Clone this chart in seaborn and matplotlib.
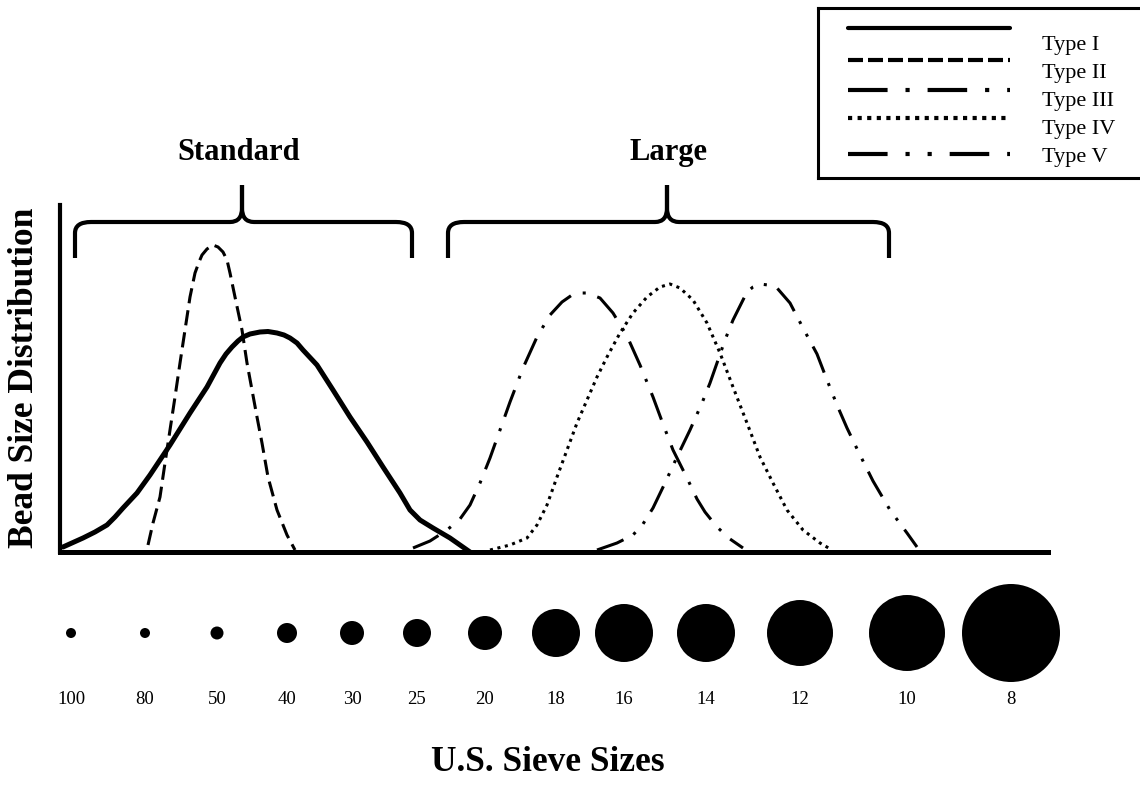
import pandas as pd
import seaborn as sns
import matplotlib.pyplot as plt
from matplotlib.path import Path
from matplotlib.patches import PathPatch

# distribution curves: position along the sieve scale, height above the axis
type1_x = [63, 83, 95, 107, 115, 123, 137, 150, 170, 190, 207, 220, 226, 232, 238, 243, 250, 260, 268, 277, 284, 290, 297, 303, 317, 333, 350, 367, 383, 400, 410, 420, 433, 450, 470]
type1_y = [5, 14, 20, 27, 35, 44, 59, 77, 107, 139, 165, 189, 198, 205, 211, 215, 218, 220, 220.5, 219, 217, 214, 209, 202, 187, 162, 135, 110, 85, 59, 42, 32, 24, 14, 0]

type2_x = [148, 153, 160, 165, 170, 175, 180, 185, 190, 195, 199, 202, 207, 213, 218, 223, 227, 230, 235, 242, 247, 252, 257, 262, 268, 277, 287, 295]
type2_y = [7, 29, 55, 89, 122, 155, 189, 222, 255, 279, 290, 297, 303, 307, 305, 300, 292, 279, 255, 222, 189, 162, 135, 109, 75, 42, 17, 2]

type3_x = [413, 430, 447, 460, 470, 480, 490, 500, 510, 523, 537, 550, 562, 572, 580, 587, 600, 613, 627, 640, 653, 663, 673, 687, 697, 705, 717, 730, 743]
type3_y = [4, 11, 22, 33, 47, 69, 94, 122, 150, 184, 215, 237, 250, 257, 259, 259, 254, 239, 216, 187, 155, 128, 102, 74, 53, 40, 25, 13, 4]

type4_x = [490, 510, 527, 537, 547, 557, 567, 577, 587, 597, 607, 620, 633, 647, 660, 670, 680, 693, 707, 720, 733, 747, 760, 773, 787, 803, 820, 832]
type4_y = [2, 7, 14, 27, 47, 75, 102, 129, 152, 175, 195, 219, 239, 255, 265, 268, 264, 252, 229, 199, 165, 129, 95, 69, 42, 22, 9, 2]

type5_x = [597, 617, 633, 643, 653, 665, 677, 690, 702, 710, 717, 725, 733, 747, 753, 760, 768, 777, 790, 803, 817, 827, 837, 847, 860, 873, 890, 907, 917]
type5_y = [2, 9, 17, 28, 44, 69, 95, 122, 149, 169, 189, 212, 232, 260, 265, 268, 267, 264, 249, 224, 198, 172, 147, 124, 97, 71, 42, 19, 5]

type_names = ['Type I', 'Type II', 'Type III', 'Type IV', 'Type V']

# sieve sizes and bead radius drawn under the axis
sieve_labels = ['100', '80', '50', '40', '30', '25', '20', '18', '16', '14', '12', '10', '8']
sieve_pos = [71, 145, 217, 287, 352, 417, 485, 556, 624, 706, 800, 907, 1011]
bead_radius = [5, 5, 6.5, 10, 12, 14, 17, 24, 29, 29, 33, 38, 49]

groups = ['Standard', 'Large']


curvas = pd.concat([
    pd.DataFrame({'pos': x, 'dist': y, 'tipo': t})
    for x, y, t in zip([type1_x, type2_x, type3_x, type4_x, type5_x],
                       [type1_y, type2_y, type3_y, type4_y, type5_y], type_names)
])

estilos = {
    'Type I': dict(linewidth=3.6, linestyle='-'),
    'Type II': dict(linewidth=2.2, linestyle=(0, (5, 2.3))),
    'Type III': dict(linewidth=2.2, linestyle=(0, (9.3, 4, 1, 4))),
    'Type IV': dict(linewidth=2.2, linestyle=(0, (1, 1.5))),
    'Type V': dict(linewidth=2.2, linestyle=(0, (9.3, 3.7, 1, 3.7, 1, 3.7))),
}
estilos_leg = {
    'Type I': dict(linewidth=3, linestyle='-'),
    'Type II': dict(linewidth=3, linestyle=(0, (3.6, 1.2))),
    'Type III': dict(linewidth=3, linestyle=(0, (9.5, 4.3, 1, 4.3))),
    'Type IV': dict(linewidth=3, linestyle=(0, (1, 1.3))),
    'Type V': dict(linewidth=3, linestyle=(0, (9.5, 4.3, 1, 4.3, 1, 4.3))),
}

sns.set_style('white')
plt.rcParams['font.family'] = ['Liberation Serif', 'DejaVu Serif']
plt.rcParams['text.color'] = 'black'

W, H = 1140, 793
fig = plt.figure(figsize=(W / 100, H / 100), dpi=100)

# main axes box in pixels: x 60..1048, y 205..552
ax = fig.add_axes([60 / W, (H - 552) / H, (1048 - 60) / W, (552 - 205) / H])
ax.set_facecolor('none')

for t in type_names:
    sns.lineplot(x='pos', y='dist', data=curvas[curvas['tipo'] == t], ax=ax,
                 color='black', estimator=None, sort=False, **estilos[t])

ax.set_xlim(60, 1048)
ax.set_ylim(0, 347)
ax.set_xticks([])
ax.set_yticks([])
ax.set_xlabel('')
ax.set_ylabel('')
for s in ['top', 'right']:
    ax.spines[s].set_visible(False)
ax.spines['left'].set_linewidth(3)
ax.spines['bottom'].set_linewidth(3.6)
ax.spines['left'].set_color('black')
ax.spines['bottom'].set_color('black')

# bead sizes
area = [(2 * r * 0.72) ** 2 for r in bead_radius]
sns.scatterplot(x=sieve_pos, y=[-81] * len(sieve_pos), s=area, color='black',
                linewidth=0, clip_on=False, ax=ax, legend=False)
for p, lab in zip(sieve_pos, sieve_labels):
    ax.text(p, -152, lab, ha='center', va='baseline', fontsize=13.5)

ax.text(548, -219, 'U.S. Sieve Sizes', ha='center', va='baseline', fontsize=25.5, weight='bold')
ax.text(25, 174, 'Bead Size Distribution', ha='center', va='center', rotation=90,
        fontsize=25.5, weight='bold')


# braces
def chave(ax, x0, x1, xm, yb=294, yh=330, yt=367):
    for xa, sg in [(x0, 1), (x1, -1)]:
        verts = [(xa, yb), (xa, yh - 11), (xa, yh), (xa + sg * 16, yh),
                 (xm - sg * 12, yh), (xm, yh), (xm, yh + 14), (xm, yt)]
        codes = [Path.MOVETO, Path.LINETO, Path.CURVE3, Path.CURVE3,
                 Path.LINETO, Path.CURVE3, Path.CURVE3, Path.LINETO]
        ax.add_patch(PathPatch(Path(verts, codes), fill=False, lw=3,
                               edgecolor='black', clip_on=False, capstyle='butt'))


chave(ax, 75, 412, 242)
chave(ax, 448, 889, 667)
ax.text(239, 392, groups[0], ha='center', va='baseline', fontsize=22, weight='bold')
ax.text(668, 392, groups[1], ha='center', va='baseline', fontsize=22, weight='bold')

# legend box
lax = fig.add_axes([818 / W, (H - 178) / H, (1150 - 818) / W, (178 - 8) / H])
lax.set_xlim(818, 1150)
lax.set_ylim(178, 8)
lax.set_xticks([])
lax.set_yticks([])
lax.spines['right'].set_visible(False)
for s in ['left', 'top', 'bottom']:
    lax.spines[s].set_linewidth(2.2)
    lax.spines[s].set_color('black')

leg_line_y = [28, 60, 90, 118, 154]
leg_text_y = [50, 78, 106, 134, 162]
for t, ly, ty in zip(type_names, leg_line_y, leg_text_y):
    lax.plot([848, 1010], [ly, ly], color='black', **estilos_leg[t])
    lax.text(1042, ty, t, ha='left', va='baseline', fontsize=16)

fig.savefig('out.png', dpi=100)
